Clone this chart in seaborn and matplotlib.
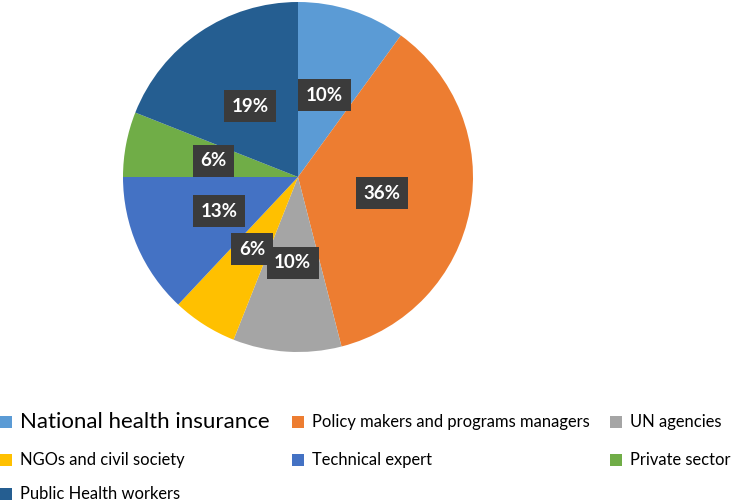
import matplotlib
matplotlib.use("Agg")
import matplotlib.pyplot as plt
import seaborn as sns
import numpy as np
from matplotlib.patches import Rectangle

categories = ["National health insurance", "Policy makers and programs managers",
              "UN agencies", "NGOs and civil society", "Technical expert",
              "Private sector", "Public Health workers"]
values = [10, 36, 10, 6, 13, 6, 19]
pct_labels = ["10%", "36%", "10%", "6%", "13%", "6%", "19%"]
colors = ["#5B9BD5", "#ED7D31", "#A5A5A5", "#FFC000", "#4472C4", "#70AD47", "#255E91"]

sns.set_theme(style="white")
plt.rcParams['font.family'] = ['Lato', 'DejaVu Sans']
palette = sns.color_palette(colors)

W, H = 735, 503
fig = plt.figure(figsize=(W / 100, H / 100), dpi=100)
cx, cy, r = 298, 177, 175
ax = fig.add_axes([(cx - r) / W, (H - cy - r) / H, 2 * r / W, 2 * r / H])

wedges, _ = ax.pie(values, colors=palette, startangle=90, counterclock=False,
                   wedgeprops=dict(linewidth=0))
ax.set_aspect("equal")
ax.set_xlim(-1, 1)
ax.set_ylim(-1, 1)
ax.axis("off")

for w, lab in zip(wedges, pct_labels):
    ang = np.deg2rad((w.theta1 + w.theta2) / 2)
    d = 0.49
    ax.text(d * np.cos(ang), d * np.sin(ang), lab, ha="center", va="center",
            color="white", fontsize=13.5, fontweight="bold",
            bbox=dict(boxstyle="square,pad=0.4", fc="#3b3b3b", ec="none"))

# legend laid out in rows like the source
order_rows = [[0, 1, 2], [3, 4, 5], [6]]
col_x = [0, 292, 610]
row_y = [422, 460, 494]
sq = 12
for ri, row in enumerate(order_rows):
    for ci, idx in enumerate(row):
        x0 = col_x[ci]
        yc = row_y[ri]
        fig.patches.append(Rectangle((x0 / W, (H - yc - sq / 2) / H), sq / W, sq / H,
                                     transform=fig.transFigure, fc=colors[idx], ec="none"))
        fs = 16 if idx == 0 else 11.9
        fig.text((x0 + sq + 8) / W, (H - yc) / H, categories[idx], ha="left", va="center",
                 fontsize=fs, color="#000000")

fig.savefig("out.png", dpi=100)
